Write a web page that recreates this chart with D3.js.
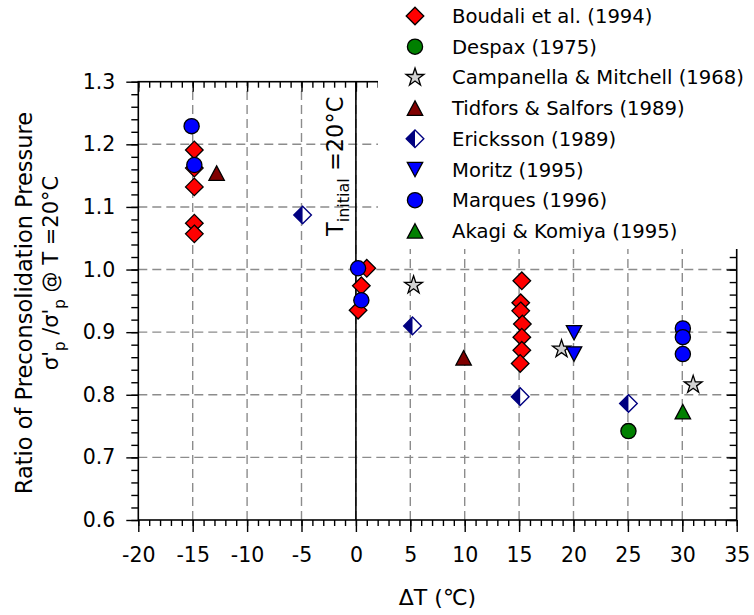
<!DOCTYPE html>
<html>
<head>
<meta charset="utf-8">
<script src="https://cdn.jsdelivr.net/npm/d3@7"></script>
<style>
  html, body { margin: 0; padding: 0; background: #fff; }
  svg { display: block; font-family: "DejaVu Sans", sans-serif; }
</style>
</head>
<body>
<svg id="chart" width="754" height="615"></svg>
<script>
// Axis ticks
const xMajorTicks = [-20, -15, -10, -5, 0, 5, 10, 15, 20, 25, 30, 35];
const yMajorTicks = [0.6, 0.7, 0.8, 0.9, 1.0, 1.1, 1.2, 1.3];

// Series: temperature change (°C) and ratio of preconsolidation pressure
const boudaliX = [-14.85, -14.85, -14.85, -14.85, -14.85, 1.0, 0.5, 0.2, 15.25, 15.15, 15.15, 15.3, 15.25, 15.25, 15.1];
const boudaliY = [1.191, 1.162, 1.132, 1.074, 1.057, 1.002, 0.974, 0.935, 0.982, 0.947, 0.934, 0.913, 0.892, 0.871, 0.850];
const despaxX = [25.05];
const despaxY = [0.742];
const campanellaX = [5.3, 18.9, 31.0];
const campanellaY = [0.975, 0.873, 0.816];
const tidforsX = [-12.8, 9.9];
const tidforsY = [1.154, 0.859];
const ericksonX = [-4.9, 5.2, 15.1, 25.05];
const ericksonY = [1.087, 0.910, 0.797, 0.786];
const moritzX = [20.05, 20.05];
const moritzY = [0.899, 0.865];
const marquesX = [-15.1, -14.85, 0.2, 0.5, 30.05, 30.05, 30.05];
const marquesY = [1.229, 1.167, 1.002, 0.951, 0.906, 0.892, 0.865];
const akagiX = [30.05];
const akagiY = [0.773];

const seriesNames = ["Boudali et al. (1994)", "Despax (1975)", "Campanella & Mitchell (1968)",
  "Tidfors & Salfors (1989)", "Ericksson (1989)", "Moritz (1995)", "Marques (1996)", "Akagi & Komiya (1995)"];

const series = [
  { name: seriesNames[0], xs: boudaliX, ys: boudaliY, shape: "diamond", fill: "#ff0000", stroke: "#000" },
  { name: seriesNames[1], xs: despaxX, ys: despaxY, shape: "circle", fill: "#008000", stroke: "#000" },
  { name: seriesNames[2], xs: campanellaX, ys: campanellaY, shape: "star", fill: "#d3d3d3", stroke: "#000" },
  { name: seriesNames[3], xs: tidforsX, ys: tidforsY, shape: "triUp", fill: "#800000", stroke: "#000" },
  { name: seriesNames[4], xs: ericksonX, ys: ericksonY, shape: "halfDiamond", fill: "#000080", stroke: "#000080" },
  { name: seriesNames[5], xs: moritzX, ys: moritzY, shape: "triDown", fill: "#0000ff", stroke: "#000" },
  { name: seriesNames[6], xs: marquesX, ys: marquesY, shape: "circle", fill: "#0000ff", stroke: "#000" },
  { name: seriesNames[7], xs: akagiX, ys: akagiY, shape: "triUp", fill: "#008000", stroke: "#000" }
];

const svg = d3.select("#chart");
const plot = { left: 138.3, right: 736.7, top: 81.7, bottom: 520 };

const x = d3.scaleLinear().domain([-20, 35]).range([plot.left, plot.right]);
const y = d3.scaleLinear().domain([0.6, 1.3]).range([plot.bottom, plot.top]);

const xMinor = d3.range(-20, 35.001, 1);
const yMinor = d3.range(0, 36).map(i => +(0.6 + i * 0.02).toFixed(2));

// Dashed grid
const grid = svg.append("g").attr("stroke", "#8c8c8c").attr("stroke-width", 1.4)
  .attr("stroke-dasharray", "9,5");
grid.selectAll("line.vx").data(xMajorTicks.slice(1, -1)).join("line")
  .attr("x1", d => x(d)).attr("x2", d => x(d)).attr("y1", plot.bottom).attr("y2", plot.top);
grid.selectAll("line.hy").data(yMajorTicks.slice(1, -1)).join("line")
  .attr("y1", d => y(d)).attr("y2", d => y(d)).attr("x1", plot.left).attr("x2", plot.right);

// Reference line at the initial temperature
svg.append("line").attr("x1", x(0)).attr("x2", x(0)).attr("y1", plot.bottom).attr("y2", plot.top)
  .attr("stroke", "#000").attr("stroke-width", 1.6);

// Frame with axes (outward ticks on left/bottom, inward ticks on top/right)
const axisStyle = g => {
  g.select(".domain").remove();
  g.selectAll("line").attr("stroke", "#000").attr("stroke-width", 1.4);
};
const xMajFmt = d => String(d);
const yMajFmt = d3.format(".1f");

svg.append("g").attr("transform", `translate(0,${plot.bottom})`)
  .call(d3.axisBottom(x).tickValues(xMinor).tickSize(6).tickFormat(""))
  .call(axisStyle);
svg.append("g").attr("transform", `translate(0,${plot.bottom})`)
  .call(d3.axisBottom(x).tickValues(xMajorTicks).tickSize(12).tickPadding(15).tickFormat(xMajFmt))
  .call(axisStyle)
  .selectAll("text").attr("font-size", 20.5).attr("fill", "#000").attr("font-family", "DejaVu Sans");

svg.append("g").attr("transform", `translate(${plot.left},0)`)
  .call(d3.axisLeft(y).tickValues(yMinor).tickSize(7).tickFormat(""))
  .call(axisStyle);
svg.append("g").attr("transform", `translate(${plot.left},0)`)
  .call(d3.axisLeft(y).tickValues(yMajorTicks).tickSize(12).tickPadding(11).tickFormat(yMajFmt))
  .call(axisStyle)
  .selectAll("text").attr("font-size", 20.5).attr("fill", "#000").attr("font-family", "DejaVu Sans");

// Mirror axes on top and right, ticks pointing inward
svg.append("g").attr("transform", `translate(0,${plot.top})`)
  .call(d3.axisTop(x).tickValues(xMinor).tickSize(-6).tickFormat("")).call(axisStyle);
svg.append("g").attr("transform", `translate(0,${plot.top})`)
  .call(d3.axisTop(x).tickValues(xMajorTicks).tickSize(-10).tickFormat("")).call(axisStyle);
svg.append("g").attr("transform", `translate(${plot.right},0)`)
  .call(d3.axisRight(y).tickValues(yMinor).tickSize(-7).tickFormat("")).call(axisStyle);
svg.append("g").attr("transform", `translate(${plot.right},0)`)
  .call(d3.axisRight(y).tickValues(yMajorTicks).tickSize(-10).tickFormat("")).call(axisStyle);

svg.append("rect").attr("x", plot.left).attr("y", plot.top)
  .attr("width", plot.right - plot.left).attr("height", plot.bottom - plot.top)
  .attr("fill", "none").attr("stroke", "#000").attr("stroke-width", 1.6);

// Marker shapes
function markerPath(shape) {
  switch (shape) {
    case "diamond": case "halfDiamond": {
      const r = 8.8;
      return `M0,${-r}L${r},0L0,${r}L${-r},0Z`;
    }
    case "circle": return d3.symbol(d3.symbolCircle, Math.PI * 7.6 * 7.6)();
    case "triUp": return "M0,-7.2L7.7,7.2L-7.7,7.2Z";
    case "triDown": return "M0,7.2L7.7,-7.2L-7.7,-7.2Z";
    case "star": {
      const R = 9.4, r = R * 0.382, pts = [];
      for (let i = 0; i < 10; i++) {
        const a = -Math.PI / 2 + i * Math.PI / 5;
        const rr = i % 2 === 0 ? R : r;
        pts.push([rr * Math.cos(a), rr * Math.sin(a)]);
      }
      return "M" + pts.map(p => p.join(",")).join("L") + "Z";
    }
  }
}

function drawMarker(g, s) {
  if (s.shape === "halfDiamond") {
    const r = 8.8;
    g.append("path").attr("d", markerPath("diamond")).attr("fill", "#fff");
    g.append("path").attr("d", `M0,${-r}L0,${r}L${-r},0Z`).attr("fill", s.fill);
    g.append("path").attr("d", markerPath("diamond")).attr("fill", "none")
      .attr("stroke", s.stroke).attr("stroke-width", 1.4);
  } else {
    g.append("path").attr("d", markerPath(s.shape)).attr("fill", s.fill)
      .attr("stroke", s.stroke).attr("stroke-width", 1.3).attr("stroke-linejoin", "miter");
  }
}

// Points
series.forEach(s => {
  const pts = s.xs.map((v, i) => [v, s.ys[i]]);
  svg.append("g").selectAll("g").data(pts).join("g")
    .attr("transform", d => `translate(${x(d[0])},${y(d[1])})`)
    .each(function () { drawMarker(d3.select(this), s); });
});

// Legend (opaque box)
const legend = svg.append("g");
legend.append("rect").attr("x", 378).attr("y", 0).attr("width", 376).attr("height", 249).attr("fill", "#fff");
series.forEach((s, i) => {
  const cy = 16 + i * 30.7;
  const g = legend.append("g").attr("transform", `translate(415,${cy})`);
  drawMarker(g, s);
  legend.append("text").attr("x", 452).attr("y", cy).attr("dy", "0.36em")
    .attr("font-size", 19.6).attr("fill", "#000").text(s.name);
});

// Initial temperature annotation
const ann = svg.append("text").attr("transform", `translate(343,236) rotate(-90)`)
  .attr("font-size", 22.5).attr("fill", "#000");
ann.append("tspan").text("T");
ann.append("tspan").attr("font-size", 16).attr("dy", 6).text("initial");
ann.append("tspan").attr("dy", -6).text(" =20°C");

// Axis titles
svg.append("text").attr("x", x(7.5)).attr("y", 605).attr("text-anchor", "middle")
  .attr("font-size", 22).attr("fill", "#000").text("ΔT (℃)");

svg.append("text").attr("transform", "translate(32,303) rotate(-90)").attr("text-anchor", "middle")
  .attr("font-size", 22.5).attr("fill", "#000").text("Ratio of Preconsolidation Pressure");

const yl2 = svg.append("text").attr("transform", "translate(58,273) rotate(-90)").attr("text-anchor", "middle")
  .attr("font-size", 21).attr("fill", "#000");
yl2.append("tspan").text("σ'");
yl2.append("tspan").attr("font-size", 15).attr("dy", 7).text("p");
yl2.append("tspan").attr("dy", -7).text(" /σ'");
yl2.append("tspan").attr("font-size", 15).attr("dy", 7).text("p");
yl2.append("tspan").attr("dy", -7).text(" @ T =20°C");
</script>
</body>
</html>
